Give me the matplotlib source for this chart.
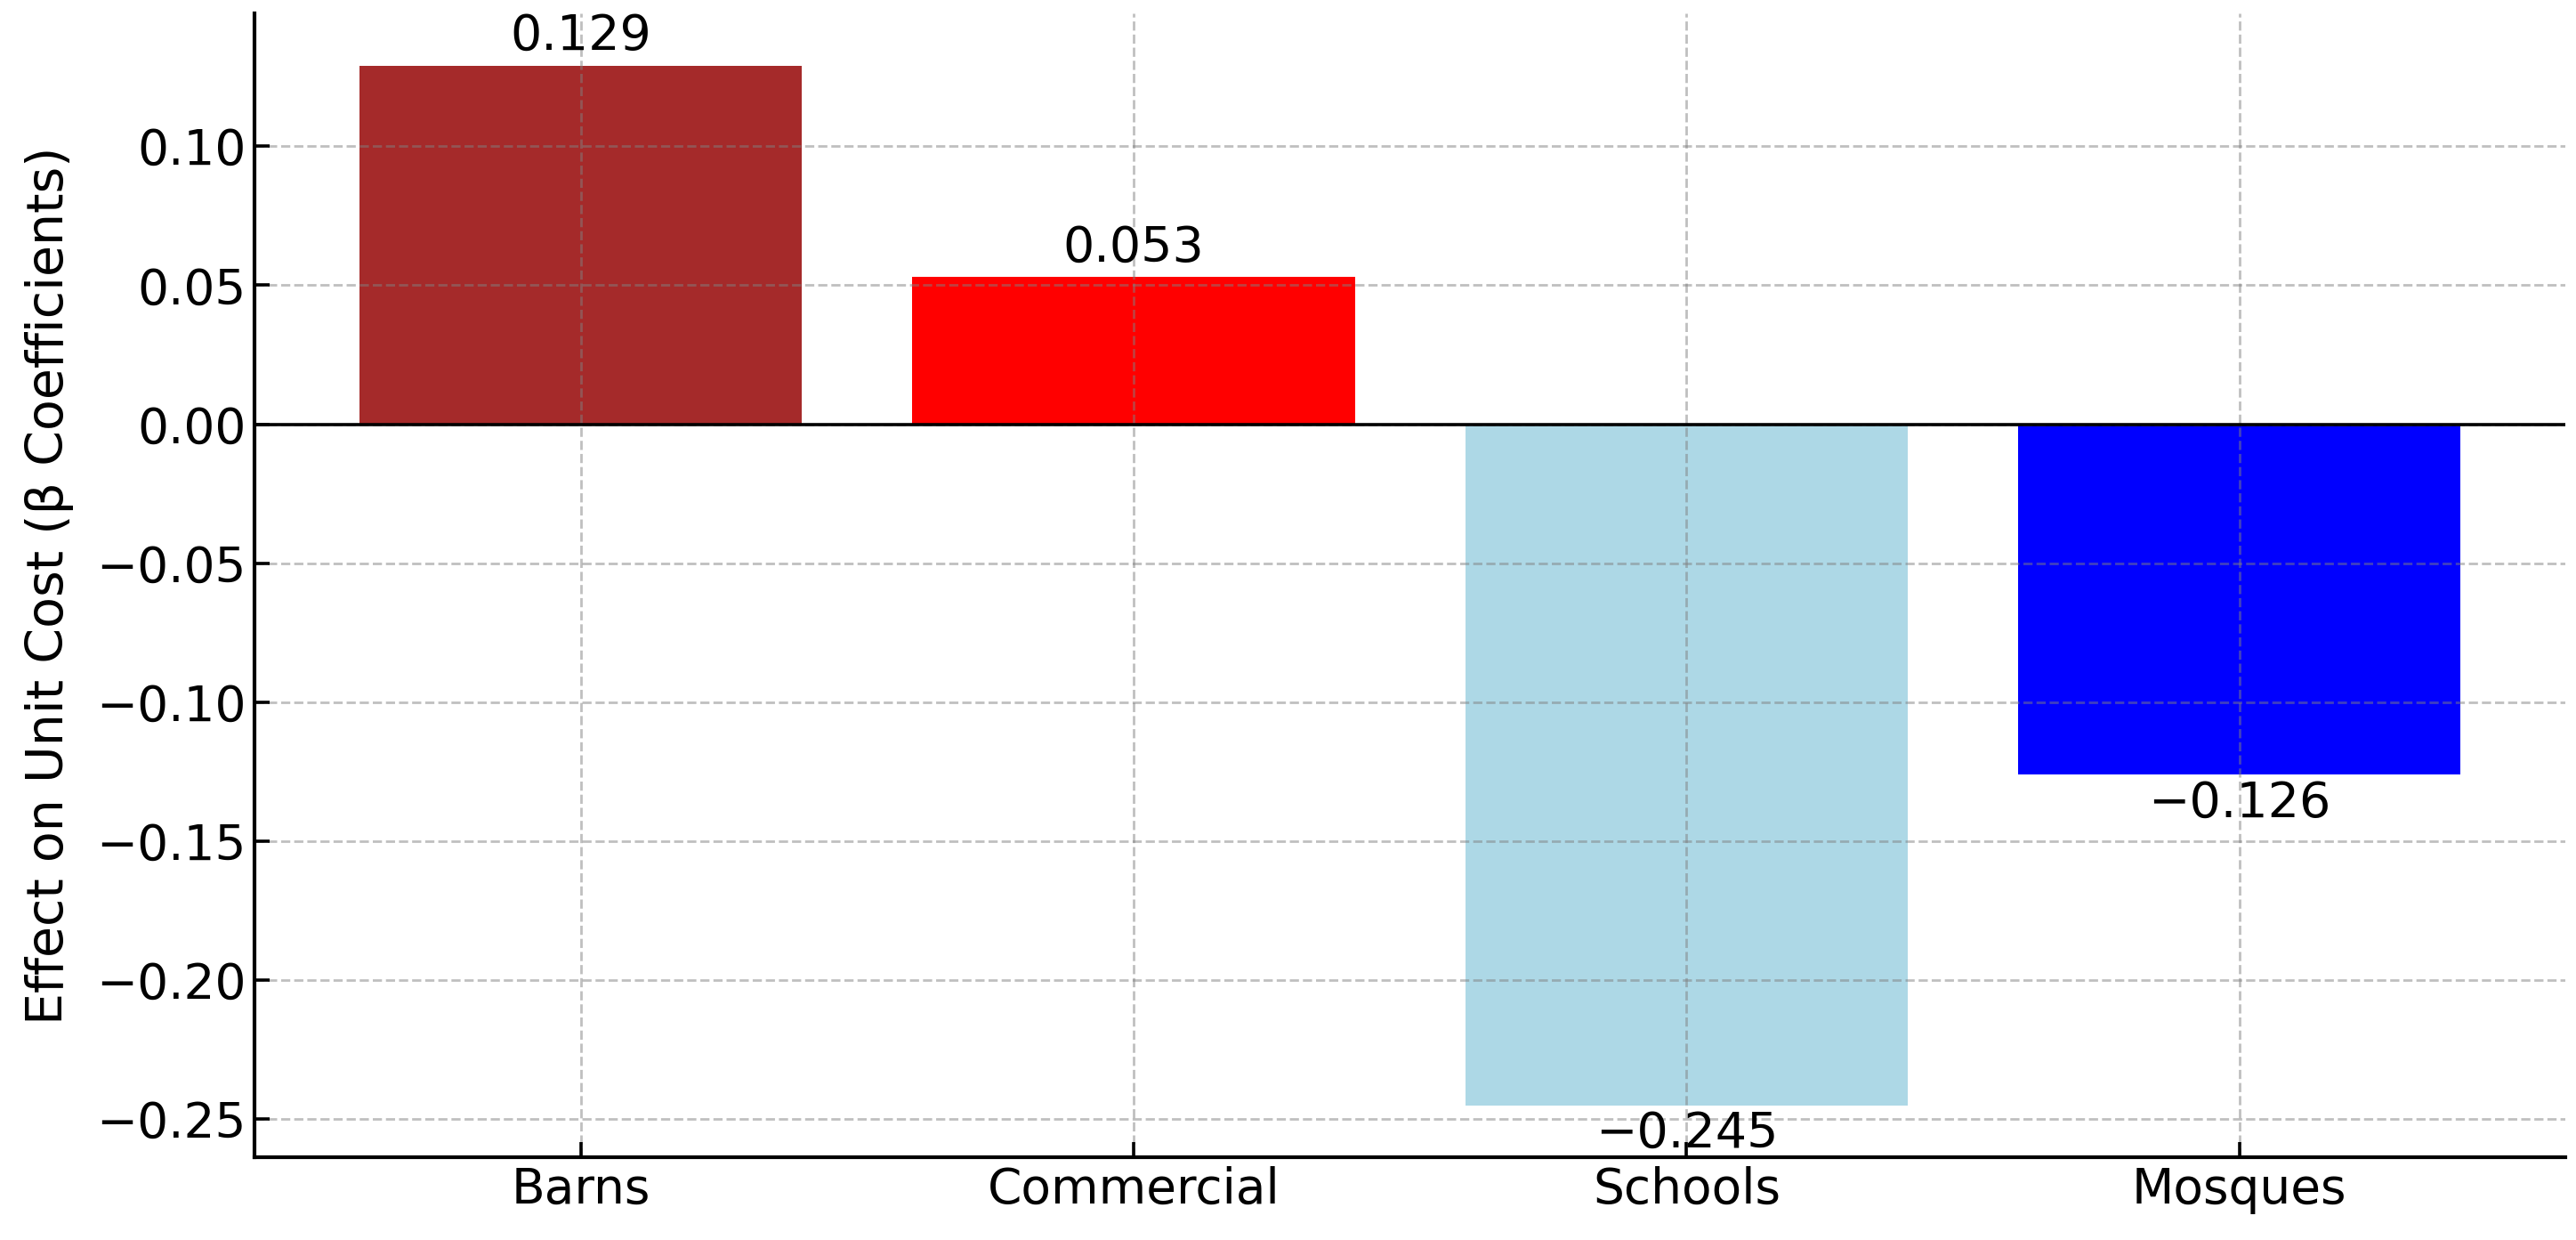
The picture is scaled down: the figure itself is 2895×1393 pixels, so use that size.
import matplotlib
matplotlib.use("Agg")
import matplotlib.pyplot as plt

# Data
categories = ["Barns", "Commercial", "Schools", "Mosques"]
coefficients = [0.129, 0.053, -0.245, -0.126]
bar_colors = ["brown", "red", "lightblue", "blue"]


def main():
    plt.rcParams["font.family"] = "DejaVu Sans"
    fig, ax = plt.subplots(figsize=(14.475, 6.965), dpi=200)
    fig.subplots_adjust(left=0.0988, right=0.996, top=0.989, bottom=0.0668)

    bars = ax.bar(categories, coefficients, color=bar_colors, width=0.8)
    ax.axhline(0, color="black", linewidth=1.3)

    labels = [f"{v:.3f}".replace("-", "\u2212") for v in coefficients]
    ax.bar_label(bars, labels=labels, fontsize=20, padding=2)

    ax.set_ylabel("Effect on Unit Cost (β Coefficients)", fontsize=20.5, labelpad=9)
    ax.tick_params(axis="both", labelsize=19.8, direction="in", length=6, width=1.3)
    ax.grid(True, linestyle="--", color="gray", alpha=0.5, linewidth=1.0)

    ax.spines["top"].set_visible(False)
    ax.spines["right"].set_visible(False)
    ax.spines["left"].set_linewidth(1.5)
    ax.spines["bottom"].set_linewidth(1.5)

    fig.savefig("out.png", dpi=200)


if __name__ == "__main__":
    main()
